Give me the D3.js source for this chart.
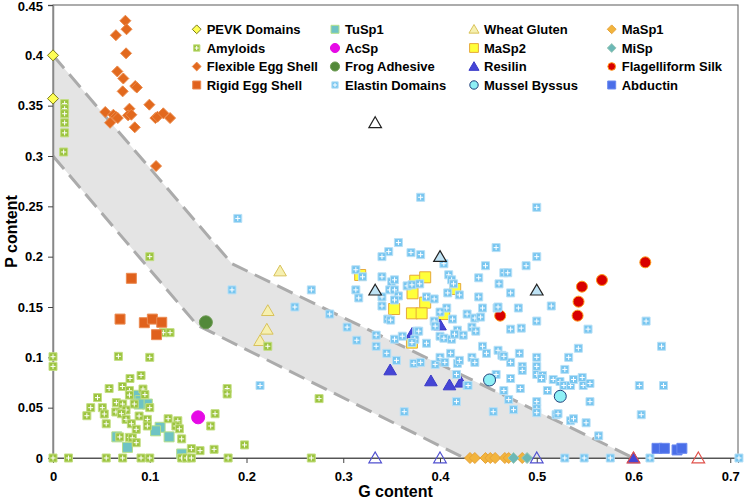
<!DOCTYPE html>
<meta charset="utf-8" />
<script src="https://d3js.org/d3.v7.min.js"></script>
<style>
  body { margin: 0; background: #fff; }
  text { font-family: "Liberation Sans", Arial, sans-serif; font-weight: bold; }
</style>
<div id="chart"></div>
<script>
  // data: [G content, P content]
  const pevk = [[0, 0.4], [0, 0.357]];
  const tusp1 = [[0.0858, 0.0623], [0.09, 0.057], [0.0975, 0.0536], [0.089, 0.0536], [0.1107, 0.0305],
    [0.106, 0.027], [0.12, 0.021], [0.066, 0.021], [0.077, 0.0106], [0.133, 0.004]];
  const wheatGluten = [[0.2347, 0.1857], [0.222, 0.1463], [0.221, 0.1278], [0.214, 0.1165]];
  const masp1 = [[0.431, 0], [0.436, 0], [0.447, 0], [0.452, 0], [0.457, 0], [0.467, 0], [0.471, 0], [0.485, 0]];
  const amyloids = [[0.012, 0.352], [0.012, 0.347], [0.012, 0.342], [0.012, 0.333], [0.012, 0.323], [0.011, 0.304],
    [0.1, 0.2], [0.114, 0.1245], [0.121, 0.1245], [0.222, 0.111], [0.275, 0.059], [0.267, 0], [0.198, 0.013],
    [0, 0.1006], [0, 0.091], [0.0676, 0.101], [0.1, 0.1], [0.091, 0.082], [0.0796, 0.079], [0.058, 0.069],
    [0.0717, 0.071], [0.079, 0.067], [0.093, 0.0685], [0.079, 0.0625], [0.095, 0.063], [0.046, 0.06],
    [0.0655, 0.055], [0.072, 0.0536], [0.084, 0.0536], [0.039, 0.05], [0.051, 0.05], [0.0755, 0.0477],
    [0.1, 0.05], [0.065, 0.0457], [0.0707, 0.044], [0.035, 0.042], [0.053, 0.0437], [0.089, 0.0417],
    [0.0755, 0.0384], [0.0975, 0.0384], [0.119, 0.039], [0.129, 0.037], [0.055, 0.034], [0.081, 0.034],
    [0.0975, 0.0318], [0.127, 0.0318], [0.1306, 0.029], [0.086, 0.0285], [0.163, 0.0318], [0.1675, 0.044],
    [0.069, 0.0209], [0.079, 0.0205], [0.082, 0.02], [0.086, 0.0152], [0.133, 0.019], [0.143, 0.0093],
    [0.152, 0.0073], [0.1665, 0.0086], [0.18, 0.069], [0.18, 0.0636],
    [0, 0], [0.016, 0], [0.055, 0], [0.072, 0], [0.091, 0], [0.1, 0], [0.133, 0], [0.138, 0], [0.143, 0], [0.181, 0]];
  const acsp = [[0.15, 0.0404]];
  const masp2 = [[0.3175, 0.1818], [0.3744, 0.1761], [0.3847, 0.1795], [0.3716, 0.1636], [0.3847, 0.1543],
    [0.4157, 0.1679], [0.3526, 0.148], [0.371, 0.1437], [0.381, 0.1437], [0.4043, 0.143], [0.371, 0.1146]];
  const misp = [[0.476, 0], [0.49, 0]];
  const flexibleEggShell = [[0.0748, 0.4344], [0.065, 0.42], [0.076, 0.4259], [0.0755, 0.402], [0.0665, 0.384],
    [0.0727, 0.377], [0.085, 0.3695], [0.0866, 0.368], [0.072, 0.3642], [0.054, 0.3437], [0.0624, 0.341],
    [0.065, 0.339], [0.067, 0.3377], [0.079, 0.347], [0.0776, 0.3404], [0.081, 0.341], [0.0996, 0.351],
    [0.1058, 0.3377], [0.108, 0.339], [0.114, 0.3424], [0.121, 0.3377], [0.0845, 0.3285], [0.059, 0.333],
    [0.1065, 0.29]];
  const frogAdhesive = [[0.158, 0.1348]];
  const resilin = [[0.3485, 0.0874], [0.3906, 0.0765], [0.4098, 0.0725], [0.4216, 0.0752], [0.3713, 0.1239],
    [0.4, 0.132], [0.6, 0]];
  const flagelliform = [[0.6122, 0.1944], [0.5674, 0.1768], [0.5467, 0.1702], [0.5432, 0.1553],
    [0.5422, 0.1414], [0.4622, 0.1414]];
  const rigidEggShell = [[0.081, 0.1785], [0.0693, 0.138], [0.0944, 0.1344], [0.1027, 0.138], [0.1124, 0.1348],
    [0.107, 0.1225]];
  const elastin = [[0.191, 0.238], [0.185, 0.167], [0.25, 0.15],
    [0.38, 0.259], [0.357, 0.214], [0.347, 0.205], [0.34, 0.2], [0.37, 0.204], [0.38, 0.202], [0.404, 0.193],
    [0.458, 0.209], [0.447, 0.191], [0.313, 0.187], [0.32, 0.18], [0.34, 0.18], [0.35, 0.175], [0.353, 0.177],
    [0.366, 0.171], [0.371, 0.172], [0.379, 0.173], [0.409, 0.182], [0.412, 0.177], [0.414, 0.173],
    [0.44, 0.179], [0.267, 0.167], [0.313, 0.167], [0.348, 0.167], [0.353, 0.167], [0.316, 0.159], [0.34, 0.16],
    [0.357, 0.161], [0.353, 0.157], [0.386, 0.16], [0.394, 0.158], [0.408, 0.164], [0.42, 0.162], [0.44, 0.16],
    [0.34, 0.151], [0.407, 0.149], [0.444, 0.149], [0.459, 0.149], [0.4, 0.145],
    [0.5, 0.249], [0.5, 0.2], [0.489, 0.191], [0.466, 0.184], [0.47, 0.184], [0.461, 0.173], [0.473, 0.164],
    [0.515, 0.151], [0.46, 0.15], [0.481, 0.149],
    [0.286, 0.143], [0.304, 0.13], [0.334, 0.122], [0.334, 0.111], [0.314, 0.117], [0.345, 0.104], [0.355, 0.097],
    [0.346, 0.138], [0.349, 0.137], [0.353, 0.118], [0.361, 0.121], [0.376, 0.126], [0.378, 0.126],
    [0.374, 0.118], [0.386, 0.114], [0.373, 0.094], [0.38, 0.095], [0.395, 0.093], [0.394, 0.136],
    [0.395, 0.131], [0.413, 0.138], [0.428, 0.143], [0.436, 0.139], [0.442, 0.14], [0.4, 0.121],
    [0.404, 0.119], [0.412, 0.118], [0.418, 0.127], [0.424, 0.122], [0.415, 0.123], [0.433, 0.13],
    [0.437, 0.126], [0.444, 0.111], [0.448, 0.104], [0.46, 0.107], [0.464, 0.102], [0.473, 0.095],
    [0.482, 0.104], [0.473, 0.128], [0.4, 0.1], [0.405, 0.095], [0.411, 0.104], [0.418, 0.094], [0.42, 0.097],
    [0.433, 0.1], [0.436, 0.095], [0.417, 0.083], [0.428, 0.072], [0.417, 0.056], [0.458, 0.083], [0.363, 0.046],
    [0.455, 0.046], [0.466, 0.067], [0.471, 0.058], [0.476, 0.048], [0.473, 0.079], [0.371, 0.1146],
    [0.5, 0.136], [0.484, 0.129], [0.553, 0.128], [0.613, 0.136], [0.629, 0.111], [0.543, 0.109], [0.5, 0.1],
    [0.533, 0.1], [0.466, 0.101], [0.485, 0.091], [0.485, 0.087], [0.5, 0.091], [0.5, 0.083], [0.506, 0.082],
    [0.505, 0.079], [0.529, 0.088], [0.517, 0.078], [0.524, 0.076], [0.528, 0.072], [0.535, 0.072],
    [0.538, 0.078], [0.547, 0.08], [0.548, 0.072], [0.555, 0.074], [0.483, 0.069], [0.511, 0.067],
    [0.606, 0.072], [0.631, 0.072], [0.5, 0.056], [0.5, 0.049], [0.5, 0.045], [0.555, 0.056], [0.52, 0.043],
    [0.522, 0.044], [0.535, 0.037], [0.538, 0.039], [0.551, 0.035], [0.608, 0.043], [0.564, 0.022],
    [0.214, 0.072], [0.429, 0.072],
    [0.529, 0], [0.549, 0], [0.576, 0], [0.617, 0], [0.709, 0]];
  const musselByssus = [[0.4512, 0.0775], [0.5243, 0.0613]];
  const abductin = [[0.6243, 0.0096], [0.6319, 0.0096], [0.645, 0.008], [0.65, 0.0096]];
  // unlabelled open triangles
  const modelBlack = [[0.333, 0.333]];
  const modelBlackBlue = [[0.333, 0.1667], [0.4, 0.2], [0.5, 0.1667]];
  const modelBlue = [[0.333, 0], [0.4, 0], [0.5, 0]];
  const modelRed = [[0.6, 0], [0.667, 0]];

  // grey band
  const upperBound = [[0, 0.4], [0.185, 0.193], [0.6, 0]];
  const lowerBound = [[0, 0.3], [0.149, 0.132], [0.425, 0]];

  const xTicks = [0, 0.1, 0.2, 0.3, 0.4, 0.5, 0.6, 0.7];
  const yTicks = [0, 0.05, 0.1, 0.15, 0.2, 0.25, 0.3, 0.35, 0.4, 0.45];

  const width = 750, height = 501;
  const plotLeft = 53, plotRight = 738, plotTop = 5, plotBottom = 458;

  const svg = d3.select("#chart").append("svg")
    .attr("width", width).attr("height", height);

  const x = d3.scaleLinear().domain([0, 0.708]).range([plotLeft, plotRight]);
  const y = d3.scaleLinear().domain([0, 0.45]).range([plotBottom, plotTop]);

  // shape paths
  function shapePath(shape, s) {
    if (shape == "square") return `M${-s},${-s}h${2 * s}v${2 * s}h${-2 * s}Z`;
    if (shape == "diamond") return `M0,${-s}L${s},0L0,${s}L${-s},0Z`;
    if (shape == "triangle") return `M0,${-s}L${s * 1.05},${s * 0.8}L${-s * 1.05},${s * 0.8}Z`;
    if (shape == "circle") return d3.symbol(d3.symbolCircle, Math.PI * s * s)();
  }

  // series in the drawing order
  const series = [
    { name: "PEVK Domains", data: pevk, shape: "diamond", s: 5.5, fill: "#ffff55", stroke: "#7a7a1a", sw: 1 },
    { name: "TuSp1", data: tusp1, shape: "square", s: 5, fill: "#6ec3c4", stroke: "#b4e08a", sw: 1 },
    { name: "Wheat Gluten", data: wheatGluten, shape: "triangle", s: 6, fill: "#f6f0b0", stroke: "#d9c25a", sw: 1 },
    { name: "MaSp1", data: masp1, shape: "diamond", s: 5.5, fill: "#f2b43c", stroke: "#e6a23a", sw: 1 },
    { name: "Amyloids", data: amyloids, shape: "square", s: 4, fill: "#9cc43f", stroke: "#c3de82", sw: 1, plus: true },
    { name: "AcSp", data: acsp, shape: "circle", s: 6.5, fill: "#e60ae6", stroke: "#e60ae6", sw: 1 },
    { name: "MaSp2", data: masp2, shape: "square", s: 5.5, fill: "#ffff3a", stroke: "#e6a93a", sw: 1 },
    { name: "MiSp", data: misp, shape: "diamond", s: 5.5, fill: "#6cb8b6", stroke: "#9cc8b8", sw: 1 },
    { name: "Flexible Egg Shell", data: flexibleEggShell, shape: "diamond", s: 5.5, fill: "#e2691e", stroke: "#eb8a4a", sw: 1 },
    { name: "Frog Adhesive", data: frogAdhesive, shape: "circle", s: 6.5, fill: "#53893a", stroke: "#6b9a50", sw: 1 },
    { name: "Resilin", data: resilin, shape: "triangle", s: 6, fill: "#4545d6", stroke: "#3a3ac8", sw: 1 },
    { name: "Flagelliform Silk", data: flagelliform, shape: "circle", s: 5.5, fill: "#d80000", stroke: "#ff9a1a", sw: 1 },
    { name: "Rigid Egg Shell", data: rigidEggShell, shape: "square", s: 5, fill: "#e0611c", stroke: "#ea8a50", sw: 1 },
    { name: "Elastin Domains", data: elastin, shape: "square", s: 4, fill: "#78c6f0", stroke: "#b8e0f6", sw: 1, plus: true },
    { name: "Mussel Byssus", data: musselByssus, shape: "circle", s: 6, fill: "#8ef0f6", stroke: "#1f3f7a", sw: 1 },
    { name: "Abductin", data: abductin, shape: "square", s: 5, fill: "#4a6ee8", stroke: "#6b8af0", sw: 1 }
  ];
  const extras = [
    { data: modelBlack, shape: "triangle", s: 6, fill: "#ffffff", stroke: "#222", sw: 1.2 },
    { data: modelBlackBlue, shape: "triangle", s: 6, fill: "#bfe3f5", stroke: "#222", sw: 1.2 },
    { data: modelBlue, shape: "triangle", s: 6, fill: "none", stroke: "#5050d0", sw: 1.2 },
    { data: modelRed, shape: "triangle", s: 6, fill: "none", stroke: "#e0504a", sw: 1.2 }
  ];

  // grey band between the dashed lines
  const band = upperBound.concat(lowerBound.slice().reverse());
  svg.append("path")
    .attr("d", d3.line().x(d => x(d[0])).y(d => y(d[1]))(band) + "Z")
    .attr("fill", "#e4e4e4");

  // plot frame
  svg.append("rect")
    .attr("x", plotLeft).attr("y", plotTop)
    .attr("width", plotRight - plotLeft).attr("height", plotBottom - plotTop)
    .attr("fill", "none").attr("stroke", "#5a5a5a").attr("stroke-width", 1);

  [upperBound, lowerBound].forEach(function (b) {
    svg.append("path")
      .attr("d", d3.line().x(d => x(d[0])).y(d => y(d[1]))(b))
      .attr("fill", "none")
      .attr("stroke", "#ababab")
      .attr("stroke-width", 3)
      .attr("stroke-dasharray", "17,8");
  });

  // axes
  const xAxis = svg.append("g")
    .attr("transform", `translate(0,${plotBottom})`)
    .call(d3.axisBottom(x).tickValues(xTicks).tickSize(5).tickPadding(9).tickFormat(d3.format("~g")));
  const yAxis = svg.append("g")
    .attr("transform", `translate(${plotLeft},0)`)
    .call(d3.axisLeft(y).tickValues(yTicks).tickSize(5).tickPadding(5).tickFormat(d3.format("~g")));
  xAxis.select(".domain").attr("stroke", "#555");
  yAxis.select(".domain").attr("stroke", "#888").attr("stroke-width", 1.5);
  svg.selectAll(".tick line").attr("stroke", "#444");
  svg.selectAll(".tick text")
    .style("font-family", '"Liberation Sans", Arial, sans-serif')
    .style("font-weight", "bold")
    .style("font-size", "13px")
    .attr("fill", "#000");
  // keep the top label inside the picture
  yAxis.selectAll(".tick text").filter(d => d == 0.45).attr("dy", "0.45em");

  svg.append("text")
    .attr("x", (plotLeft + plotRight) / 2).attr("y", 497)
    .attr("text-anchor", "middle")
    .style("font-size", "16px")
    .text("G content");
  svg.append("text")
    .attr("transform", `translate(17,${(plotTop + plotBottom) / 2}) rotate(-90)`)
    .attr("text-anchor", "middle")
    .style("font-size", "16px")
    .text("P content");

  function drawSeries(sr) {
    const g = svg.append("g");
    sr.data.forEach(function (d) {
      const cx = x(d[0]), cy = y(d[1]);
      g.append("path")
        .attr("transform", `translate(${cx},${cy})`)
        .attr("d", shapePath(sr.shape, sr.s))
        .attr("fill", sr.fill)
        .attr("stroke", sr.stroke)
        .attr("stroke-width", sr.sw);
      if (sr.plus) {
        g.append("path")
          .attr("transform", `translate(${cx},${cy})`)
          .attr("d", "M-2.5,0H2.5M0,-2.5V2.5")
          .attr("stroke", "#fff")
          .attr("stroke-width", 1);
      }
    });
  }
  series.forEach(drawSeries);
  extras.forEach(drawSeries);

  // legend, 4 columns, row-major order
  const legendCols = [196.7, 335, 474, 611.7];
  const legendRows = [29.3, 48, 66.5, 85];
  const legendOrder = ["PEVK Domains", "TuSp1", "Wheat Gluten", "MaSp1",
    "Amyloids", "AcSp", "MaSp2", "MiSp",
    "Flexible Egg Shell", "Frog Adhesive", "Resilin", "Flagelliform Silk",
    "Rigid Egg Shell", "Elastin Domains", "Mussel Byssus", "Abductin"];
  const legend = svg.append("g");
  legendOrder.forEach(function (name, i) {
    const sr = series.find(s => s.name == name);
    const lx = legendCols[i % 4], ly = legendRows[Math.floor(i / 4)];
    const scale = sr.shape == "circle" ? 0.7 : 0.8;
    legend.append("path")
      .attr("transform", `translate(${lx},${ly})`)
      .attr("d", shapePath(sr.shape, sr.s * scale))
      .attr("fill", sr.fill)
      .attr("stroke", sr.stroke)
      .attr("stroke-width", sr.sw);
    if (sr.plus) {
      legend.append("path")
        .attr("transform", `translate(${lx},${ly})`)
        .attr("d", "M-2,0H2M0,-2V2")
        .attr("stroke", "#fff");
    }
    legend.append("text")
      .attr("x", lx + 10).attr("y", ly + 4.7)
      .style("font-size", "13px")
      .text(name);
  });
</script>
